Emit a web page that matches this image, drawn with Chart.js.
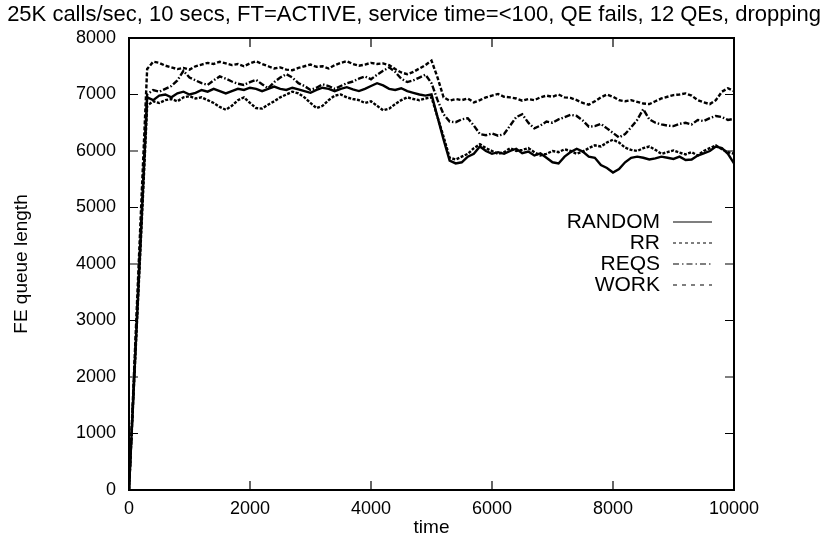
<!DOCTYPE html>
<html>
<head>
<meta charset="utf-8">
<title>FE queue length</title>
<script src="https://cdn.jsdelivr.net/npm/chart.js@4.4.1/dist/chart.umd.min.js"></script>
<style>
  body { margin: 0; background: #fff; }
  #wrap { width: 828px; height: 543px; }
</style>
</head>
<body>
<div id="wrap"><canvas id="myChart" width="828" height="543"></canvas></div>
<script>
// time axis (one sample every 100 time units)
var times = [0,100,200,300,400,500,600,700,800,900,
  1000,1100,1200,1300,1400,1500,1600,1700,1800,1900,
  2000,2100,2200,2300,2400,2500,2600,2700,2800,2900,
  3000,3100,3200,3300,3400,3500,3600,3700,3800,3900,
  4000,4100,4200,4300,4400,4500,4600,4700,4800,4900,
  5000,5100,5200,5300,5400,5500,5600,5700,5800,5900,
  6000,6100,6200,6300,6400,6500,6600,6700,6800,6900,
  7000,7100,7200,7300,7400,7500,7600,7700,7800,7900,
  8000,8100,8200,8300,8400,8500,8600,8700,8800,8900,
  9000,9100,9200,9300,9400,9500,9600,9700,9800,9900,10000];

var randomQueue = [0,2300,4600,6950,6900,6980,7000,6950,7020,7050,
  7000,7030,7080,7050,7100,7060,7020,7060,7100,7080,
  7120,7100,7060,7100,7140,7100,7080,7120,7090,7060,
  7030,7080,7120,7100,7060,7100,7130,7090,7060,7100,
  7150,7200,7160,7100,7080,7110,7060,7030,7000,6980,
  7000,6600,6200,5830,5780,5800,5900,5950,6080,6000,
  5950,5980,5950,6000,6040,5960,5990,5920,5960,5880,
  5800,5780,5900,5980,6040,5990,5900,5880,5750,5700,
  5620,5680,5800,5880,5900,5880,5850,5870,5900,5880,
  5860,5900,5840,5850,5920,5960,6000,6080,6050,5950,5780];

var rrQueue = [0,2250,4500,6800,6880,6850,6900,6920,6880,6950,
  6970,6930,6950,6900,6850,6780,6730,6800,6900,6950,
  6850,6760,6750,6820,6880,6950,7000,7050,7020,6950,
  6850,6760,6800,6900,6980,7000,6950,6920,6900,6850,
  6880,6800,6720,6750,6830,6900,6950,6920,6900,6930,
  6950,6600,6250,5880,5850,5900,5950,6050,6120,6050,
  6000,5950,5980,6050,6000,6020,6050,5980,5920,5950,
  6000,5980,6030,6000,5950,5990,6050,6100,6080,6150,
  6200,6150,6060,6020,6000,6050,6080,6020,5950,5980,
  6010,5970,5940,5980,5920,6000,6050,6100,6030,5980,5950];

var reqsQueue = [0,2350,4700,7000,7080,7050,7100,7150,7250,7420,
  7300,7250,7200,7170,7250,7320,7280,7230,7190,7170,
  7220,7260,7180,7110,7220,7300,7360,7300,7200,7150,
  7080,7120,7180,7150,7100,7150,7200,7230,7280,7320,
  7270,7350,7420,7480,7400,7280,7220,7250,7300,7350,
  7200,6900,6650,6520,6510,6560,6580,6450,6300,6280,
  6310,6270,6300,6450,6600,6650,6500,6400,6450,6520,
  6500,6560,6600,6640,6620,6540,6430,6440,6480,6400,
  6320,6240,6300,6420,6550,6740,6560,6500,6470,6450,
  6440,6480,6500,6470,6550,6530,6580,6620,6600,6550,6570];

var workQueue = [0,2500,5000,7450,7580,7560,7510,7480,7450,7470,
  7440,7500,7530,7560,7540,7580,7550,7520,7540,7500,
  7550,7590,7540,7500,7460,7480,7440,7430,7470,7500,
  7530,7490,7500,7460,7520,7560,7590,7540,7510,7530,
  7560,7540,7550,7520,7450,7390,7360,7400,7460,7520,
  7600,7300,6950,6890,6920,6900,6930,6860,6900,6950,
  6980,7010,6960,6950,6930,6890,6920,6900,6950,6980,
  6960,7000,6950,6940,6900,6850,6820,6880,6950,7000,
  6960,6900,6880,6900,6870,6840,6830,6880,6930,6960,
  6990,7000,7020,6980,6900,6860,6830,6900,7050,7110,7060];

var seriesNames = ['RANDOM', 'RR', 'REQS', 'WORK'];
var xTickValues = [0, 2000, 4000, 6000, 8000, 10000];
var yTickValues = [0, 1000, 2000, 3000, 4000, 5000, 6000, 7000, 8000];

var lineDashes = [[], [3, 1.5], [6, 2, 1.5, 2], [4, 2]];
var keyDashes = [[], [3, 3], [6, 3, 1.5, 3], [4, 5]];

function toPoints(values) {
    var pts = [];
    values.forEach(function (v, i) {
        pts.push({ x: times[i], y: v });
    });
    return pts;
}

var allSeries = [randomQueue, rrQueue, reqsQueue, workQueue];
var datasets = allSeries.map(function (values, i) {
    return {
        label: seriesNames[i],
        data: toPoints(values),
        borderColor: '#000',
        borderWidth: 2.4,
        borderDash: lineDashes[i],
        pointRadius: 0,
        fill: false,
        tension: 0
    };
});

var FONT = '"Liberation Sans", Arial, sans-serif';

// gnuplot style box, inner ticks and key
var framePlugin = {
    id: 'frame',
    afterDatasetsDraw: function (chart) {
        var ctx = chart.ctx;
        var a = chart.chartArea;
        var xs = chart.scales.x;
        var ys = chart.scales.y;
        ctx.save();
        ctx.strokeStyle = '#000';
        ctx.setLineDash([]);
        ctx.lineWidth = 1.2;
        ctx.beginPath();
        xTickValues.forEach(function (v) {
            var px = xs.getPixelForValue(v);
            ctx.moveTo(px, a.bottom); ctx.lineTo(px, a.bottom - 9);
            ctx.moveTo(px, a.top); ctx.lineTo(px, a.top + 9);
        });
        yTickValues.forEach(function (v) {
            var py = ys.getPixelForValue(v);
            ctx.moveTo(a.left, py); ctx.lineTo(a.left + 9, py);
            ctx.moveTo(a.right, py); ctx.lineTo(a.right - 9, py);
        });
        ctx.stroke();
        ctx.lineWidth = 2;
        ctx.strokeRect(a.left, a.top, a.right - a.left, a.bottom - a.top);

        // key
        ctx.font = '21px ' + FONT;
        ctx.fillStyle = '#000';
        ctx.textAlign = 'right';
        ctx.textBaseline = 'middle';
        ctx.lineWidth = 1.2;
        seriesNames.forEach(function (name, i) {
            var y = a.top + 184 + i * 21;
            ctx.fillText(name, a.right - 74, y);
            ctx.setLineDash(keyDashes[i]);
            ctx.beginPath();
            ctx.moveTo(a.right - 61, y);
            ctx.lineTo(a.right - 22, y);
            ctx.stroke();
        });
        ctx.restore();
    }
};

Chart.defaults.font.family = FONT;
Chart.defaults.font.size = 18;
Chart.defaults.color = '#000';

var ctx = document.getElementById('myChart').getContext('2d');
var myChart = new Chart(ctx, {
    type: 'line',
    data: { datasets: datasets },
    options: {
        responsive: false,
        animation: false,
        events: [],
        layout: { padding: 0 },
        plugins: {
            legend: { display: false },
            tooltip: { enabled: false },
            title: {
                display: true,
                text: '25K calls/sec, 10 secs, FT=ACTIVE, service time=<100, QE fails, 12 QEs, dropping',
                color: '#000',
                font: { size: 22, weight: 'normal' },
                padding: { top: 2, bottom: 9.6 }
            }
        },
        scales: {
            x: {
                type: 'linear',
                min: 0,
                max: 10000,
                afterBuildTicks: function (scale) {
                    scale.ticks = xTickValues.map(function (v) { return { value: v }; });
                },
                ticks: {
                    padding: 8,
                    maxRotation: 0,
                    callback: function (v) { return String(v); }
                },
                grid: { display: false, drawTicks: false },
                border: { display: false },
                title: { display: true, text: 'time', font: { size: 19 }, padding: { top: 0, bottom: 4 } },
                afterFit: function (scale) { scale.height = 53; }
            },
            y: {
                type: 'linear',
                min: 0,
                max: 8000,
                afterBuildTicks: function (scale) {
                    scale.ticks = yTickValues.map(function (v) { return { value: v }; });
                },
                ticks: {
                    padding: 13,
                    callback: function (v) { return String(v); }
                },
                grid: { display: false, drawTicks: false },
                border: { display: false },
                title: { display: true, text: 'FE queue length', font: { size: 19 }, padding: { top: 10, bottom: 0 } },
                afterFit: function (scale) { scale.width = 129; }
            },
            yRight: {
                position: 'right',
                display: true,
                ticks: { display: false },
                grid: { display: false, drawTicks: false },
                border: { display: false },
                afterFit: function (scale) { scale.width = 94; }
            }
        }
    },
    plugins: [framePlugin]
});
</script>
</body>
</html>
